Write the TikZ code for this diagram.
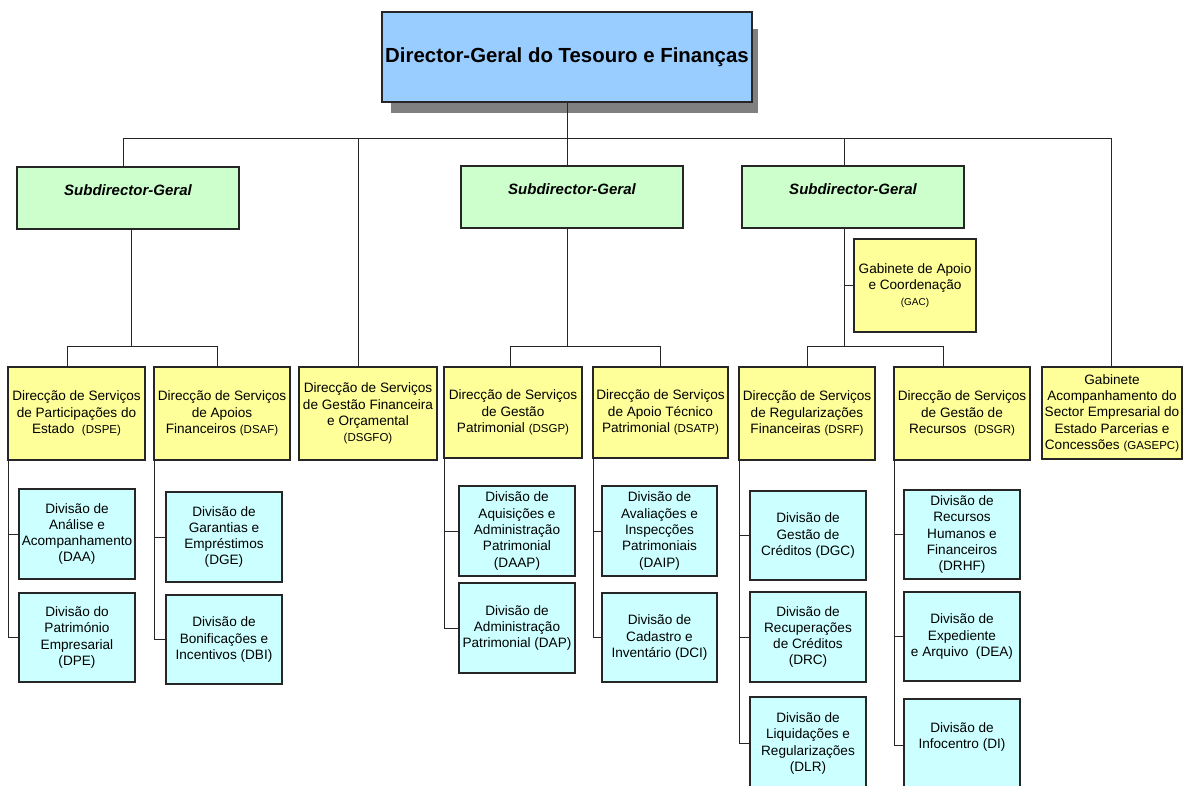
\documentclass[tikz,border=0pt]{standalone}
\usepackage{fontspec}
\setmainfont{Liberation Sans}
\usetikzlibrary{backgrounds}
\definecolor{boxyellow}{HTML}{FFFF99}
\definecolor{boxcyan}{HTML}{CCFFFF}
\definecolor{boxgreen}{HTML}{CCFFCC}
\definecolor{boxblue}{HTML}{99CCFF}
\definecolor{shadowgray}{HTML}{808080}
\newcommand{\smc}[1]{{\fontsize{11.5}{14}\selectfont #1}}
\begin{document}
\begin{tikzpicture}[x=1pt,y=-1pt,
  conn/.style={draw=black!85, line width=0.9pt},
  box/.style={draw=black!85, line width=1.1pt, inner sep=1pt, align=center,
              font=\fontsize{13.6}{16.3}\selectfont},
  ybox/.style={box, fill=boxyellow, minimum height=93pt},
  dbox/.style={box, fill=boxcyan, minimum width=116pt, minimum height=90pt},
  sbox/.style={box, fill=boxgreen, minimum width=222pt, minimum height=62pt,
               label={[font=\bfseries\itshape\fontsize{15}{18}\selectfont, yshift=8pt]center:Subdirector-Geral}},
  tbox/.style={box, fill=boxblue, minimum width=370pt, minimum height=90pt,
               font=\bfseries\fontsize{20.4}{24}\selectfont}
  ]
\path[use as bounding box] (0,0) rectangle (1185,785);
\clip (0,0) rectangle (1185,785);

% ---------- title ----------
\node[tbox] (title) at (567,57) {Director-Geral do Tesouro e Finanças};
\begin{scope}[on background layer]
\fill[shadowgray] ([xshift=10pt,yshift=-18pt]title.north west) rectangle ([xshift=5pt,yshift=-10pt]title.south east);
\end{scope}

% ---------- subdirectors ----------
\node[sbox] (s1) at (128,198) {};
\node[sbox] (s2) at (572,197) {};
\node[sbox] (s3) at (853,197) {};

% ---------- GAC ----------
\node[ybox, minimum width=122pt] (gac) at (915,285.5)
  {Gabinete de Apoio\\e Coordenação\\{\fontsize{10}{12}\selectfont (GAC)}};

% ---------- direcções ----------
\node[ybox, minimum width=137pt] (dspe) at (76.5,413.5)
  {Direcção de Serviços\\de Participações do\\Estado~ \smc{(DSPE)}};
\node[ybox, minimum width=136pt] (dsaf) at (222,413.5)
  {Direcção de Serviços\\de Apoios\\Financeiros \smc{(DSAF)}};
\node[ybox, minimum width=138pt] (dsgfo) at (368,413.5)
  {Direcção de Serviços\\de Gestão Financeira\\e Orçamental\\\smc{(DSGFO)}};
\node[ybox, minimum width=138pt, minimum height=91pt] (dsgp) at (513,412.5)
  {Direcção de Serviços\\de Gestão\\Patrimonial \smc{(DSGP)}};
\node[ybox, minimum width=135pt, minimum height=91pt] (dsatp) at (660.5,412.5)
  {Direcção de Serviços\\de Apoio Técnico\\Patrimonial \smc{(DSATP)}};
\node[ybox, minimum width=136pt] (dsrf) at (807,413.5)
  {Direcção de Serviços\\de Regularizações\\Financeiras \smc{(DSRF)}};
\node[ybox, minimum width=136pt] (dsgr) at (962,413.5)
  {Direcção de Serviços\\de Gestão de\\Recursos~ \smc{(DSGR)}};
\node[ybox, minimum width=140pt, minimum height=92pt] (gasepc) at (1112,413)
  {Gabinete\\Acompanhamento do\\Sector Empresarial do\\Estado Parcerias e\\Concessões \smc{(GASEPC)}};

% ---------- divisões ----------
\node[dbox] (daa) at (77,534) {Divisão de\\Análise e\\Acompanhamento\\(DAA)};
\node[dbox, minimum height=89pt] (dpe) at (77,637.5) {Divisão do\\Património\\Empresarial\\(DPE)};
\node[dbox] (dge) at (224,537) {Divisão de\\Garantias e\\Empréstimos\\(DGE)};
\node[dbox, minimum height=89pt] (dbi) at (224,639.5) {Divisão de\\Bonificações e\\Incentivos (DBI)};
\node[dbox] (daap) at (517,531) {Divisão de\\Aquisições e\\Administração\\Patrimonial\\(DAAP)};
\node[dbox] (dap) at (517,628) {Divisão de\\Administração\\Patrimonial (DAP)};
\node[dbox, minimum width=115pt] (daip) at (659.5,531) {Divisão de\\Avaliações e\\Inspecções\\Patrimoniais\\(DAIP)};
\node[dbox, minimum width=115pt, minimum height=89pt] (dci) at (659.5,637.5) {Divisão de\\Cadastro e\\Inventário (DCI)};
\node[dbox, minimum height=89pt] (dgc) at (808,535.5) {Divisão de\\Gestão de\\Créditos (DGC)};
\node[dbox] (drc) at (808,637) {Divisão de\\Recuperações\\de Créditos\\(DRC)};
\node[dbox, minimum height=93pt] (dlr) at (808,743.5) {Divisão de\\Liquidações e\\Regularizações\\(DLR)};
\node[dbox, minimum height=89pt] (drhf) at (962,534.5) {Divisão de\\Recursos\\Humanos e\\Financeiros\\(DRHF)};
\node[dbox, minimum height=89pt] (dea) at (962,636.5) {Divisão de\\Expediente\\e Arquivo~ (DEA)};
\node[dbox, minimum height=93pt] (di) at (962,745.5) {};
\node[box, draw=none, fill=none] (dit) at (962,737) {Divisão de\\Infocentro (DI)};

% ---------- connectors: top level ----------
\coordinate (bL) at (123,138);
\coordinate (bR) at (1111,138);
\coordinate (bM) at (358,138);
\coordinate (bS) at (844,138);
\draw[conn] (bL) -- (bR);
\draw[conn] (bL) -- (bL |- s1.north);
\draw[conn] (bM) -- (bM |- dsgfo.north);
\draw[conn] (title.south) -- (title.south |- s2.north);
\draw[conn] (bS) -- (bS |- s3.north);
\draw[conn] (bR) -- (bR |- gasepc.north);

% ---------- connectors: subdirector to direcções ----------
\coordinate (j1) at (131,346);
\coordinate (j1a) at (67,346);
\coordinate (j1b) at (217,346);
\draw[conn] (j1 |- s1.south) -- (j1);
\draw[conn] (j1a |- dspe.north) -- (j1a) -- (j1b) -- (j1b |- dsaf.north);

\coordinate (j2a) at (510,346);
\coordinate (j2b) at (660,346);
\draw[conn] (title.south |- s2.south) -- (title.south |- j2a);
\draw[conn] (j2a |- dsgp.north) -- (j2a) -- (j2b) -- (j2b |- dsatp.north);

\coordinate (j3a) at (807,346);
\coordinate (j3b) at (943,346);
\draw[conn] (bS |- s3.south) -- (bS |- j3a);
\draw[conn] (j3a |- dsrf.north) -- (j3a) -- (j3b) -- (j3b |- dsgr.north);
\draw[conn] (bS |- gac.west) -- (gac.west);

% ---------- connectors: direcções to divisões ----------
\coordinate (sp1) at ([xshift=1pt]dspe.south west);
\draw[conn] (sp1) |- (dpe.west);
\draw[conn] (sp1 |- daa.west) -- (daa.west);

\coordinate (sp2) at ([xshift=1pt]dsaf.south west);
\draw[conn] (sp2) |- (dbi.west);
\draw[conn] (sp2 |- dge.west) -- (dge.west);

\coordinate (sp3) at ([xshift=1pt]dsgp.south west);
\draw[conn] (sp3) |- (dap.west);
\draw[conn] (sp3 |- daap.west) -- (daap.west);

\coordinate (sp4) at ([xshift=1pt]dsatp.south west);
\draw[conn] (sp4) |- (dci.west);
\draw[conn] (sp4 |- daip.west) -- (daip.west);

\coordinate (sp5) at ([xshift=1pt]dsrf.south west);
\draw[conn] (sp5) |- (dlr.west);
\draw[conn] (sp5 |- dgc.west) -- (dgc.west);
\draw[conn] (sp5 |- drc.west) -- (drc.west);

\coordinate (sp6) at ([xshift=1pt]dsgr.south west);
\draw[conn] (sp6) |- (di.west);
\draw[conn] (sp6 |- drhf.west) -- (drhf.west);
\draw[conn] (sp6 |- dea.west) -- (dea.west);
\end{tikzpicture}
\end{document}
